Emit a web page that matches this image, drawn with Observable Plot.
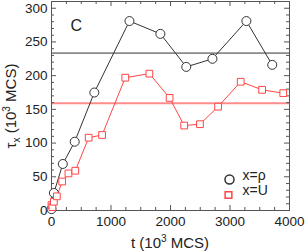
<!DOCTYPE html>
<html><head><meta charset="utf-8">
<script src="https://cdn.jsdelivr.net/npm/d3@7"></script>
<script src="https://cdn.jsdelivr.net/npm/@observablehq/plot@0.6"></script>
<style>body{margin:0;background:#fff}</style>
</head><body><div id="chart"></div>
<script>
// x = rho (circles)
const tRho   = [0, 40, 190, 390, 720, 1310, 1830, 2265, 2705, 3275, 3710];
const tauRho = [2, 26, 69, 102, 175, 281, 262, 213, 225, 281, 216];
// x = U (squares)
const tU   = [0, 15, 40, 90, 180, 285, 400, 625, 850, 1240, 1645, 1985, 2230, 2495, 2800, 3180, 3540, 3895];
const tauU = [8, 5, 13, 21, 43, 55, 59, 108, 112, 197, 203, 167, 126, 128, 154, 191, 179, 174];
const meanRho = [233.5];
const meanU = [159];
const xMajor = [0, 1000, 2000, 3000, 4000];
const xMinor = [250, 500, 750, 1250, 1500, 1750, 2250, 2500, 2750, 3250, 3500, 3750];
const yMajor = [0, 50, 100, 150, 200, 250, 300];
const yMinor = [10, 20, 30, 40, 60, 70, 80, 90, 110, 120, 130, 140, 160, 170, 180, 190, 210, 220, 230, 240, 260, 270, 280, 290];
const legendLabels = ["x=\u03C1", "x=U"];
const panelLabel = "C";

const rho = tRho.map((t, i) => ({t, tau: tauRho[i]}));
const U = tU.map((t, i) => ({t, tau: tauU[i]}));

const H = 209, W = 238;
const black = "#333", red = "#ff4545";
const plot = Plot.plot({
  width: 305, height: 252,
  marginLeft: 51, marginRight: 16, marginTop: 1, marginBottom: 42,
  x: {domain: [0, 4000]},
  y: {domain: [0, 310]},
  style: {fontFamily: "'Liberation Sans', Arial, sans-serif", fontSize: "13px", color: "#222", background: "white", overflow: "visible"},
  marks: [
    Plot.ruleY(meanRho, {stroke: black, strokeWidth: 1}),
    Plot.ruleY(meanU, {stroke: "#ff8c8c", strokeWidth: 2}),
    // ticks inward on all sides
    Plot.tickX(xMajor, {insetTop: H - 5, stroke: "#555"}),
    Plot.tickX(xMinor, {insetTop: H - 3, stroke: "#555"}),
    Plot.tickX(xMajor, {insetBottom: H - 5, stroke: "#555"}),
    Plot.tickX(xMinor, {insetBottom: H - 3, stroke: "#555"}),
    Plot.tickY(yMajor, {insetRight: W - 5, stroke: "#555"}),
    Plot.tickY(yMinor, {insetRight: W - 3, stroke: "#555"}),
    Plot.tickY(yMajor, {insetLeft: W - 5, stroke: "#555"}),
    Plot.tickY(yMinor, {insetLeft: W - 3, stroke: "#555"}),
    Plot.axisX({ticks: xMajor, tickSize: 0, tickPadding: 6, tickFormat: d3.format("d"), label: null, fontSize: 13.5}),
    Plot.axisY({ticks: yMajor, tickSize: 0, tickPadding: 4, tickFormat: d3.format("d"), label: null, fontSize: 13.5}),
    Plot.frame({stroke: "#555"}),
    Plot.line(rho, {x: "t", y: "tau", stroke: black, strokeWidth: 1}),
    Plot.line(U, {x: "t", y: "tau", stroke: red, strokeWidth: 1}),
    Plot.dot(rho, {x: "t", y: "tau", symbol: "circle", r: 4.5, stroke: black, fill: "white", strokeWidth: 1}),
    Plot.dot(U, {x: "t", y: "tau", symbol: "square", r: 3.8, stroke: red, fill: "white", strokeWidth: 1}),
    // legend
    Plot.dot([legendLabels[0]], {frameAnchor: "bottom-right", dx: -60, dy: -31, symbol: "circle", r: 4.5, stroke: black, fill: "white"}),
    Plot.dot([legendLabels[1]], {frameAnchor: "bottom-right", dx: -61, dy: -15.5, symbol: "square", r: 3.8, stroke: red, fill: "white"}),
    Plot.text([legendLabels[0]], {frameAnchor: "bottom-right", dx: -47, dy: -31, text: d => d, textAnchor: "start", fontSize: 14, fill: "#222"}),
    Plot.text([legendLabels[1]], {frameAnchor: "bottom-right", dx: -47, dy: -15.5, text: d => d, textAnchor: "start", fontSize: 14, fill: "#222"}),
    Plot.text([panelLabel], {frameAnchor: "top-left", dx: 19, dy: 18, text: d => d, fontSize: 16, fill: "#222"})
  ]
});
document.getElementById("chart").appendChild(plot);

const svg = d3.select(plot);
const ff = "'Liberation Sans', Arial, sans-serif";
const xl = svg.append("text").attr("x", 170).attr("y", 248).attr("text-anchor", "middle")
  .attr("font-family", ff).attr("font-size", 15).attr("fill", "#222");
xl.append("tspan").text("t (10");
xl.append("tspan").attr("dy", -6).attr("font-size", 10).text("3");
xl.append("tspan").attr("dy", 6).text(" MCS)");

const yl = svg.append("text").attr("transform", "translate(16,106) rotate(-90)").attr("text-anchor", "middle")
  .attr("font-family", ff).attr("font-size", 15).attr("fill", "#222");
yl.append("tspan").text("\u03C4");
yl.append("tspan").attr("dy", 4).attr("font-size", 10).text("x");
yl.append("tspan").attr("dy", -4).text(" (10");
yl.append("tspan").attr("dy", -6).attr("font-size", 10).text("3");
yl.append("tspan").attr("dy", 6).text(" MCS)");
</script>
</body></html>
